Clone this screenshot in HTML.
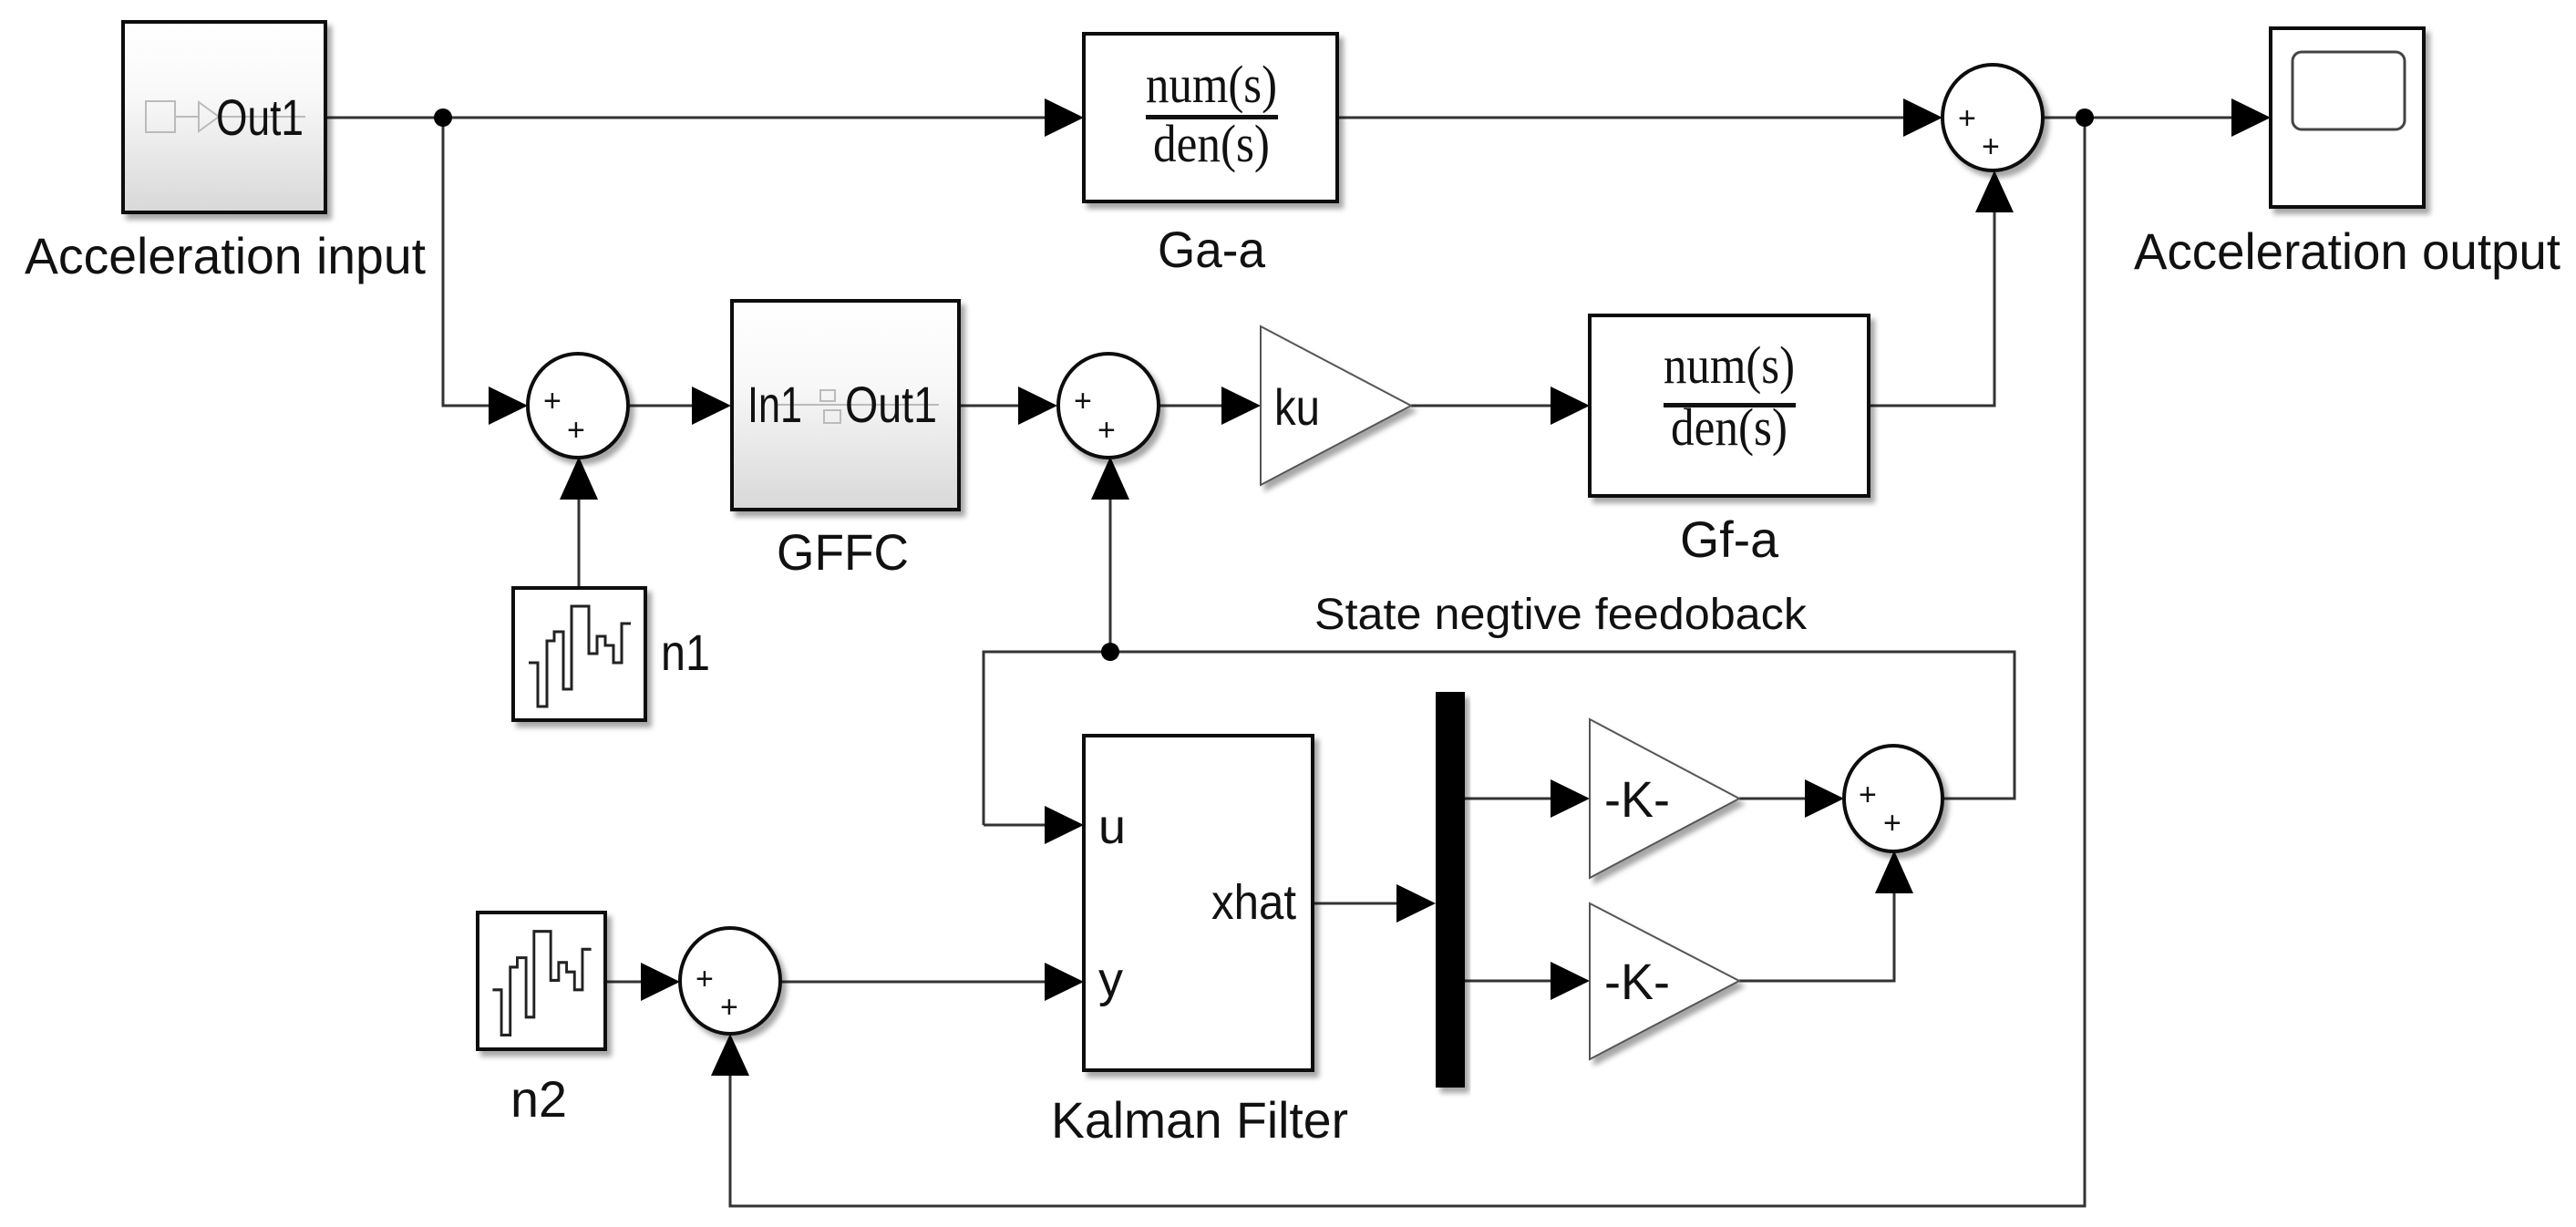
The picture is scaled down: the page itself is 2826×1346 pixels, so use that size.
<!DOCTYPE html>
<html><head><meta charset="utf-8"><style>
html,body{margin:0;padding:0;background:#fff}
svg{display:block}
text{font-family:"Liberation Sans",Arial,sans-serif;fill:#111}
.serif{font-family:"Liberation Serif",serif}
</style></head><body>
<svg width="2826" height="1346" viewBox="0 0 2826 1346" xmlns="http://www.w3.org/2000/svg">
<defs>
<linearGradient id="g" x1="0" y1="0" x2="0" y2="1"><stop offset="0" stop-color="#fff"/><stop offset="0.4" stop-color="#f8f8f8"/><stop offset="1" stop-color="#d8d8d8"/></linearGradient>
<filter id="sh" x="-10%" y="-10%" width="130%" height="130%"><feDropShadow dx="5" dy="6" stdDeviation="3" flood-color="#000" flood-opacity="0.35"/></filter>
</defs>
<g stroke="#333" stroke-width="3" fill="none">
<polyline points="357,129 1150,129"/>
<polyline points="1467,129 2090,129"/>
<polyline points="2242,129 2452,129"/>
<polyline points="486,129 486,445 540,445"/>
<polyline points="689,445 762,445"/>
<polyline points="1052,445 1120,445"/>
<polyline points="1272,445 1343,445"/>
<polyline points="1548,445 1704,445"/>
<polyline points="2050,445 2188,445 2188,232"/>
<polyline points="635,644 635,545"/>
<polyline points="1218,715 1218,545"/>
<polyline points="1079,905 1079,715 2210,715 2210,876 2131,876"/>
<polyline points="1079,905 1149,905"/>
<polyline points="664,1077 706,1077"/>
<polyline points="856,1077 1149,1077"/>
<polyline points="1440,991 1535,991"/>
<polyline points="1607,876 1704,876"/>
<polyline points="1607,1076 1704,1076"/>
<polyline points="1908,876 1983,876"/>
<polyline points="1908,1076 2078,1076 2078,979"/>
<polyline points="2287,129 2287,1323 801,1323 801,1179"/>
</g>
<g fill="#000">
<circle cx="486" cy="129" r="10"/>
<circle cx="2287" cy="129" r="10"/>
<circle cx="1218" cy="715" r="10"/>
<polygon points="1146,108 1189,129 1146,150"/>
<polygon points="2088,108 2131,129 2088,150"/>
<polygon points="2448,108 2491,129 2448,150"/>
<polygon points="536,424 579,445 536,466"/>
<polygon points="759,424 802,445 759,466"/>
<polygon points="1117,424 1160,445 1117,466"/>
<polygon points="1340,424 1383,445 1340,466"/>
<polygon points="1701,424 1744,445 1701,466"/>
<polygon points="1146,884 1189,905 1146,926"/>
<polygon points="1146,1056 1189,1077 1146,1098"/>
<polygon points="703,1056 746,1077 703,1098"/>
<polygon points="1532,970 1575,991 1532,1012"/>
<polygon points="1701,855 1744,876 1701,897"/>
<polygon points="1701,1055 1744,1076 1701,1097"/>
<polygon points="1980,855 2023,876 1980,897"/>
<polygon points="2167,233 2188,187 2209,233"/>
<polygon points="614,548 635,501 656,548"/>
<polygon points="1197,548 1218,501 1239,548"/>
<polygon points="780,1180 801,1134 822,1180"/>
<polygon points="2057,980 2078,933 2099,980"/>
</g>
<g stroke="#111" stroke-width="4" filter="url(#sh)">
<rect x="135" y="24" width="222" height="209" fill="url(#g)"/>
<rect x="803" y="330" width="249" height="229" fill="url(#g)"/>
<rect x="1189" y="37" width="278" height="184" fill="#fff"/>
<rect x="1744" y="346" width="306" height="198" fill="#fff"/>
<rect x="2491" y="31" width="168" height="196" fill="#fff"/>
<rect x="563" y="645" width="145" height="145" fill="#fff"/>
<rect x="524" y="1001" width="140" height="150" fill="#fff"/>
<rect x="1189" y="807" width="251" height="367" fill="#fff"/>
<ellipse cx="634" cy="445" rx="55" ry="57" fill="#fff"/>
<ellipse cx="1216" cy="445" rx="55" ry="57" fill="#fff"/>
<ellipse cx="2186" cy="129" rx="55" ry="58" fill="#fff"/>
<ellipse cx="801" cy="1076" rx="55" ry="58" fill="#fff"/>
<ellipse cx="2077" cy="876" rx="54" ry="58" fill="#fff"/>
</g>
<g stroke="#555" stroke-width="2" fill="#fff" filter="url(#sh)">
<polygon points="1383,358 1548,445 1383,532"/>
<polygon points="1744,789 1908,876 1744,963"/>
<polygon points="1744,991 1908,1076 1744,1162"/>
</g>
<rect x="1575" y="759" width="32" height="434" fill="#000" filter="url(#sh)"/>
<rect x="2515" y="57" width="123" height="85" rx="10" fill="none" stroke="#444" stroke-width="3"/>
<polyline fill="none" stroke="#222" stroke-width="3" points="580,727 590,727 590,775 600,775 600,703 608,703 608,693 618,693 618,756 627,756 627,665 646,665 646,717 655,717 655,698 664,698 664,708 673,708 673,727 682,727 682,684 692,684"/>
<polyline fill="none" stroke="#222" stroke-width="3" transform="translate(524,1001) scale(0.966,1.034) translate(-563,-645)" points="580,727 590,727 590,775 600,775 600,703 608,703 608,693 618,693 618,756 627,756 627,665 646,665 646,717 655,717 655,698 664,698 664,708 673,708 673,727 682,727 682,684 692,684"/>
<g stroke="#bbb" stroke-width="2" fill="none">
<rect x="160" y="111" width="32" height="34"/><line x1="192" y1="128" x2="218" y2="128"/><polygon points="218,112 240,128 218,144"/><line x1="240" y1="128" x2="335" y2="128"/>
<rect x="900" y="428" width="16" height="12"/><rect x="904" y="450" width="18" height="14"/><line x1="850" y1="444" x2="1030" y2="444"/>
</g>
<text x="237" y="148" font-size="56" textLength="96" lengthAdjust="spacingAndGlyphs">Out1</text>
<text x="820" y="463" font-size="56" textLength="60" lengthAdjust="spacingAndGlyphs">In1</text>
<text x="927" y="463" font-size="56" textLength="101" lengthAdjust="spacingAndGlyphs">Out1</text>
<text x="27" y="300" font-size="56" textLength="440" lengthAdjust="spacingAndGlyphs">Acceleration input</text>
<text x="1270" y="293" font-size="56" textLength="118" lengthAdjust="spacingAndGlyphs">Ga-a</text>
<text x="852" y="625" font-size="56" textLength="145" lengthAdjust="spacingAndGlyphs">GFFC</text>
<text x="1843" y="611" font-size="56" textLength="108" lengthAdjust="spacingAndGlyphs">Gf-a</text>
<text x="2341" y="295" font-size="56" textLength="468" lengthAdjust="spacingAndGlyphs">Acceleration output</text>
<text x="1442" y="690" font-size="48" textLength="540" lengthAdjust="spacingAndGlyphs">State negtive feedoback</text>
<text x="725" y="735" font-size="56" textLength="54" lengthAdjust="spacingAndGlyphs">n1</text>
<text x="560" y="1225" font-size="56" textLength="62" lengthAdjust="spacingAndGlyphs">n2</text>
<text x="1153" y="1248" font-size="56" textLength="326" lengthAdjust="spacingAndGlyphs">Kalman Filter</text>
<text x="1398" y="466" font-size="56" textLength="50" lengthAdjust="spacingAndGlyphs">ku</text>
<text x="1760" y="896" font-size="56" textLength="72" lengthAdjust="spacingAndGlyphs">-K-</text>
<text x="1760" y="1096" font-size="56" textLength="72" lengthAdjust="spacingAndGlyphs">-K-</text>
<text x="1205" y="925" font-size="54">u</text>
<text x="1205" y="1093" font-size="54">y</text>
<text x="1329" y="1008" font-size="54" textLength="93" lengthAdjust="spacingAndGlyphs">xhat</text>
<text class="serif" x="1329" y="112" font-size="58" text-anchor="middle" textLength="144" lengthAdjust="spacingAndGlyphs">num(s)</text>
<rect x="1257" y="126" width="145" height="5" fill="#111"/>
<text class="serif" x="1329" y="177" font-size="58" text-anchor="middle" textLength="128" lengthAdjust="spacingAndGlyphs">den(s)</text>
<text class="serif" x="1897" y="420" font-size="58" text-anchor="middle" textLength="144" lengthAdjust="spacingAndGlyphs">num(s)</text>
<rect x="1825" y="442" width="145" height="5" fill="#111"/>
<text class="serif" x="1897" y="488" font-size="58" text-anchor="middle" textLength="128" lengthAdjust="spacingAndGlyphs">den(s)</text>
<g font-size="34">
<text x="596" y="451">+</text><text x="622" y="483">+</text>
<text x="1178" y="451">+</text><text x="1204" y="483">+</text>
<text x="2148" y="141">+</text><text x="2174" y="172">+</text>
<text x="763" y="1085">+</text><text x="790" y="1116">+</text>
<text x="2039" y="883">+</text><text x="2066" y="914">+</text>
</g>
</svg>
</body></html>
